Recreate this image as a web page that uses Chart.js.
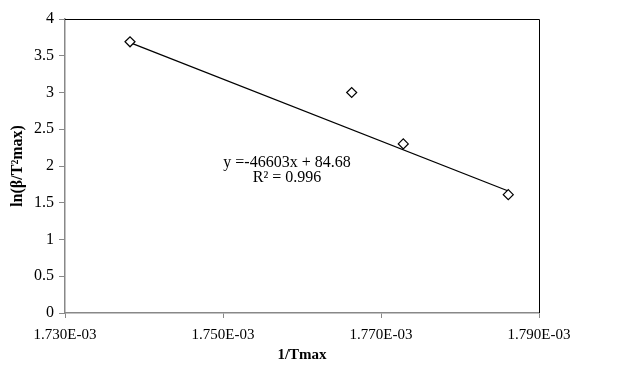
<!DOCTYPE html>
<html>
<head>
<meta charset="UTF-8">
<style>
  html, body { margin: 0; padding: 0; background: #fff; }
  #wrap { width: 617px; height: 370px; }
</style>
</head>
<body>
<div id="wrap"><canvas id="myChart" width="617" height="370"></canvas></div>
<script src="https://cdn.jsdelivr.net/npm/chart.js@4.4.0/dist/chart.umd.min.js"></script>
<script>
// data
const invT = [1.73823e-3, 1.76629e-3, 1.77282e-3, 1.78611e-3];
const lnBeta = [3.69, 3.0, 2.30, 1.61];
const trendX = [1.73823e-3, 1.78611e-3];
const trendY = [3.68, 1.66];
const xTicks = [1.73e-3, 1.75e-3, 1.77e-3, 1.79e-3];
const eqLines = ['y =-46603x + 84.68', 'R² = 0.996'];
const eqPos = [1.7581e-3, 2.05];

function sciLabel(v) {
    const [m, e] = v.toExponential(3).toUpperCase().split('E');
    const n = parseInt(e, 10);
    return m + 'E' + (n < 0 ? '-' : '+') + String(Math.abs(n)).padStart(2, '0');
}

const frame = {
    id: 'frame',
    afterDatasetsDraw(chart) {
        const a = chart.chartArea, c = chart.ctx;
        c.save();
        c.strokeStyle = '#000';
        c.lineWidth = 1;
        c.beginPath();
        c.moveTo(a.left, a.top + 0.5);
        c.lineTo(a.right + 0.5, a.top + 0.5);
        c.lineTo(a.right + 0.5, a.bottom);
        c.stroke();
        // equation text
        const xs = chart.scales.x, ys = chart.scales.y;
        const px = xs.getPixelForValue(eqPos[0]);
        const py = ys.getPixelForValue(eqPos[1]);
        c.fillStyle = '#000';
        c.font = '16px "Liberation Serif", serif';
        c.textAlign = 'center';
        c.textBaseline = 'middle';
        eqLines.forEach((t, i) => c.fillText(t, px, py + i * 15));
        c.restore();
    }
};

const serif = '"Liberation Serif", serif';

new Chart(document.getElementById('myChart'), {
    type: 'scatter',
    data: {
        datasets: [{
            data: trendX.map((x, i) => ({ x: x, y: trendY[i] })),
            showLine: true,
            borderColor: '#000',
            borderWidth: 1.3,
            pointRadius: 0,
            order: 2
        }, {
            data: invT.map((x, i) => ({ x: x, y: lnBeta[i] })),
            showLine: false,
            pointStyle: 'rectRot',
            pointRadius: 5,
            pointBackgroundColor: '#fff',
            pointBorderColor: '#000',
            pointBorderWidth: 1.2,
            order: 1
        }]
    },
    options: {
        responsive: false,
        animation: false,
        layout: { padding: { left: 0, right: 78, top: 19, bottom: 0 } },
        plugins: { legend: { display: false }, tooltip: { enabled: false } },
        scales: {
            x: {
                type: 'linear',
                min: 1.73e-3,
                max: 1.79e-3,
                afterBuildTicks(s) {
                    s.ticks = xTicks.map(v => ({ value: v }));
                },
                afterFit(s) { s.height = 57; },
                border: { color: '#888', width: 1.5 },
                grid: { drawOnChartArea: false, drawTicks: true, tickLength: 5, color: '#888' },
                ticks: { color: '#000', font: { family: serif, size: 15 }, padding: 8, maxRotation: 0, callback: v => sciLabel(v) },
                title: { display: true, text: '1/Tmax', color: '#000', font: { family: serif, size: 15, weight: 'bold' }, padding: { top: 0, bottom: 6 } }
            },
            y: {
                min: 0,
                max: 4,
                ticks: { stepSize: 0.5, color: '#000', font: { family: serif, size: 16 }, padding: 5, callback: v => String(v) },
                afterFit(s) { s.width = 65; },
                border: { color: '#888', width: 1.5 },
                grid: { drawOnChartArea: false, drawTicks: true, tickLength: 6, color: '#888' },
                title: { display: true, text: 'ln(β/T²max)', color: '#000', font: { family: serif, size: 16, weight: 'bold' }, padding: { top: 8, bottom: 0 } }
            }
        }
    },
    plugins: [frame]
});
</script>
</body>
</html>
